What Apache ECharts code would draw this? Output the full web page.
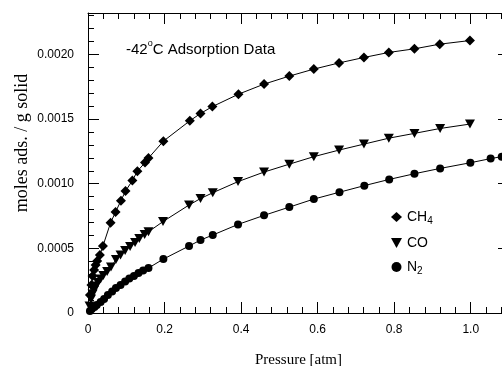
<!DOCTYPE html>
<html>
<head>
<meta charset="utf-8">
<title>-42°C Adsorption Data</title>
<script src="https://cdn.jsdelivr.net/npm/echarts@6/dist/echarts.min.js"></script>
<style>
  html, body { margin: 0; padding: 0; background: #fff; }
  #chart { width: 502px; height: 366px; }
</style>
</head>
<body>
<div id="chart"></div>
<script>
// Adsorption isotherms at -42 °C: pressure [atm] vs moles adsorbed per gram of solid
const seriesNames = ['CH4', 'CO', 'N2'];

const ch4Pressure = [0.005, 0.009, 0.012, 0.016, 0.020, 0.024, 0.031, 0.039, 0.059, 0.072, 0.086, 0.098,
  0.116, 0.129, 0.149, 0.158, 0.197, 0.266, 0.294, 0.325, 0.393, 0.460, 0.526, 0.590, 0.656, 0.721,
  0.786, 0.853, 0.919, 0.998];
const ch4Moles = [0.000139, 0.000216, 0.000286, 0.000332, 0.000371, 0.000402, 0.000448, 0.000518,
  0.000698, 0.000781, 0.000868, 0.000943, 0.001024, 0.001097, 0.001163, 0.001198, 0.001329, 0.001486,
  0.001543, 0.001596, 0.001692, 0.001770, 0.001832, 0.001886, 0.001934, 0.001976, 0.002015, 0.002043,
  0.002079, 0.002107];

const coPressure = [0.004, 0.008, 0.012, 0.016, 0.021, 0.026, 0.033, 0.040, 0.050, 0.060, 0.073, 0.085,
  0.097, 0.110, 0.123, 0.134, 0.148, 0.158, 0.196, 0.264, 0.294, 0.326, 0.392, 0.460, 0.526, 0.590,
  0.656, 0.721, 0.786, 0.853, 0.920, 0.998];
const coMoles = [0.000054, 0.000108, 0.000147, 0.000178, 0.000209, 0.000236, 0.000263, 0.000290,
  0.000321, 0.000355, 0.000413, 0.000448, 0.000483, 0.000514, 0.000545, 0.000576, 0.000607, 0.000628,
  0.000707, 0.000835, 0.000885, 0.000930, 0.001016, 0.001090, 0.001151, 0.001209, 0.001260, 0.001306,
  0.001352, 0.001389, 0.001427, 0.001461];

const n2Pressure = [0.005, 0.010, 0.017, 0.023, 0.033, 0.042, 0.052, 0.063, 0.073, 0.085, 0.097, 0.108,
  0.120, 0.132, 0.144, 0.158, 0.197, 0.264, 0.294, 0.326, 0.392, 0.460, 0.526, 0.590, 0.657, 0.722,
  0.787, 0.853, 0.920, 0.999, 1.052, 1.081];
const n2Moles = [0.0000155, 0.0000309, 0.0000464, 0.0000618, 0.0000850, 0.000108, 0.000139, 0.000166,
  0.000193, 0.000216, 0.000243, 0.000267, 0.000286, 0.000309, 0.000328, 0.000348, 0.000417, 0.000518,
  0.000564, 0.000603, 0.000685, 0.000755, 0.000819, 0.000881, 0.000934, 0.000985, 0.001033, 0.001077,
  0.001118, 0.001162, 0.001194, 0.001209];

// Axis ranges and tick spacing
const xMin = 0, xMax = 1.1, xMajor = 0.2, xMinor = 0.04;
const yMin = 0, yMax = 0.00232, yMajor = 0.0005, yMinor = 0.0001;

const pairs = (xs, ys) => xs.map((x, i) => [x, ys[i]]);

const INK = '#000';
const sansFont = 'Liberation Sans, Arial, Helvetica, sans-serif';
const serifFont = 'Liberation Serif, Times New Roman, Times, serif';

function isMultiple(v, step) {
  const r = v / step;
  return Math.abs(r - Math.round(r)) < 1e-6;
}

function xAxisDef(position, step, tickLen, withLabels, withLine) {
  return {
    type: 'value', position: position, min: xMin, max: xMax, interval: step,
    splitLine: { show: false },
    axisLine: { show: withLine, onZero: false, lineStyle: { color: INK, width: 1 } },
    axisTick: { show: true, inside: true, length: tickLen, lineStyle: { color: INK, width: 1 } },
    axisLabel: withLabels ? {
      show: true, color: INK, fontFamily: sansFont, fontSize: 12, margin: 11,
      formatter: v => (isMultiple(v, xMajor) ? (v === 0 ? '0' : v.toFixed(1)) : '')
    } : { show: false }
  };
}

function yAxisDef(position, step, tickLen, withLabels, withLine) {
  return {
    type: 'value', position: position, min: yMin, max: yMax, interval: step,
    splitLine: { show: false },
    axisLine: { show: withLine, onZero: false, lineStyle: { color: INK, width: 1 } },
    axisTick: { show: true, inside: true, length: tickLen, lineStyle: { color: INK, width: 1 } },
    axisLabel: withLabels ? {
      show: true, color: INK, fontFamily: sansFont, fontSize: 12, margin: 14,
      formatter: v => (isMultiple(v, yMajor) ? (v === 0 ? '0' : v.toFixed(4)) : '')
    } : { show: false }
  };
}

const xAxes = [
  Object.assign(xAxisDef('bottom', xMajor, 11, true, true), {
    name: 'Pressure [atm]', nameLocation: 'middle', nameGap: 40,
    nameTextStyle: { color: INK, fontFamily: serifFont, fontSize: 15 }
  }),
  xAxisDef('bottom', xMinor, 6, false, false),
  xAxisDef('top', xMajor, 11, false, true),
  xAxisDef('top', xMinor, 6, false, false)
];

const yAxes = [
  yAxisDef('left', yMajor, 11, true, true),
  yAxisDef('left', yMinor, 6, false, false),
  yAxisDef('right', yMajor, 11, false, true),
  yAxisDef('right', yMinor, 6, false, false)
];

const markerStyles = {
  CH4: { symbol: 'diamond', symbolSize: 10, symbolRotate: 0 },
  CO:  { symbol: 'triangle', symbolSize: [10, 9], symbolRotate: 180 },
  N2:  { symbol: 'circle', symbolSize: 8, symbolRotate: 0 }
};

const seriesData = {
  CH4: pairs(ch4Pressure, ch4Moles),
  CO: pairs(coPressure, coMoles),
  N2: pairs(n2Pressure, n2Moles)
};

const series = seriesNames.map(name => Object.assign({
  name: name,
  type: 'line',
  xAxisIndex: 0,
  yAxisIndex: 0,
  data: seriesData[name],
  showSymbol: true,
  clip: true,
  animation: false,
  lineStyle: { color: INK, width: 1 },
  itemStyle: { color: INK, borderWidth: 0 },
  emphasis: { disabled: true },
  z: 3
}, markerStyles[name]));

const legendIcons = {
  CH4: 'diamond',
  CO: 'path://M0,0 L10,0 L5,9 Z',
  N2: 'circle'
};

const chart = echarts.init(document.getElementById('chart'), null, { renderer: 'canvas' });

chart.setOption({
  backgroundColor: '#fff',
  animation: false,
  // plot area runs a little past the right edge of the canvas
  grid: { left: 88, top: 13, right: -7, bottom: 53, outerBoundsMode: 'none' },
  title: {
    text: '{n|-42}{s|o}{n|C Adsorption Data}',
    left: 121, top: 34,
    textStyle: {
      fontWeight: 'normal',
      rich: {
        n: { fontFamily: sansFont, fontSize: 15, fontWeight: 'normal', color: INK, lineHeight: 18, verticalAlign: 'bottom' },
        s: { fontFamily: sansFont, fontSize: 9, fontWeight: 'normal', color: INK, lineHeight: 18, verticalAlign: 'top' }
      }
    }
  },
  legend: {
    orient: 'vertical',
    left: 391, top: 210,
    padding: 0,
    itemWidth: 11, itemHeight: 10, itemGap: 10,
    selectedMode: false,
    data: seriesNames.map(n => ({ name: n, icon: legendIcons[n] })),
    formatter: name => {
      const m = name.match(/^([A-Za-z]+)(\d*)$/);
      return m[2] ? '{n|' + m[1] + '}{s|' + m[2] + '}' : '{n|' + name + '}';
    },
    textStyle: {
      color: INK,
      rich: {
        n: { fontFamily: sansFont, fontSize: 14, color: INK, lineHeight: 18, verticalAlign: 'middle' },
        s: { fontFamily: sansFont, fontSize: 10, color: INK, lineHeight: 18, verticalAlign: 'bottom' }
      }
    }
  },
  graphic: [{
    type: 'text',
    x: 22, y: 143,
    rotation: Math.PI / 2,
    style: {
      text: 'moles ads. / g solid',
      fill: INK,
      font: '18px ' + serifFont,
      align: 'center',
      verticalAlign: 'middle'
    }
  }],
  xAxis: xAxes,
  yAxis: yAxes,
  series: series
});
</script>
</body>
</html>
